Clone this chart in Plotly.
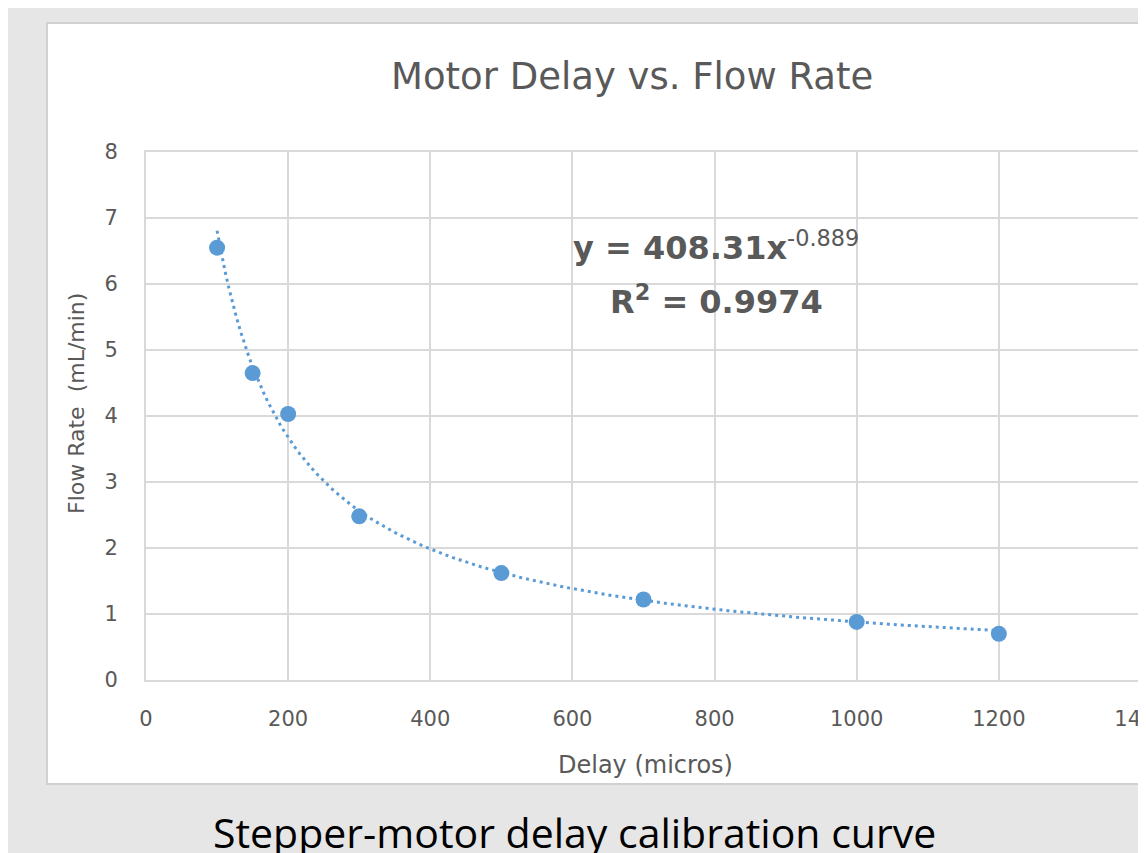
import numpy as np
import plotly.graph_objects as go

# Data
delay_us = [100, 150, 200, 300, 500, 700, 1000, 1200]
flow_ml_min = [6.55, 4.65, 4.03, 2.48, 1.62, 1.22, 0.88, 0.70]

# Power trendline shown on the chart: y = 408.31 x^-0.889
fit_a = 408.31
fit_b = -0.889
trend_x = np.linspace(min(delay_us), max(delay_us), 200)
trend_y = fit_a * trend_x ** fit_b

x_ticks = [0, 200, 400, 600, 800, 1000, 1200, 1400]
y_ticks = [0, 1, 2, 3, 4, 5, 6, 7, 8]

BLUE = "#5b9bd5"
GRAY_TXT = "#595959"
GRID = "#d9d9d9"
FONT = "DejaVu Sans"

fig = go.Figure()
fig.add_trace(go.Scatter(x=trend_x, y=trend_y, mode="lines",
                         line=dict(color=BLUE, width=3, dash="3px,4px"),
                         hoverinfo="skip", showlegend=False))
fig.add_trace(go.Scatter(x=delay_us, y=flow_ml_min, mode="markers",
                         marker=dict(color=BLUE, size=16),
                         showlegend=False))

# page body has an 8px margin: work in window pixels and shift by OFF
OFF = 8
W, H = 1146 - OFF, 853 - OFF
plot_left, plot_right, plot_top, plot_bottom = 146, 1141, 152, 680
L = plot_left - OFF
T = plot_top - OFF
R = W - (plot_right - OFF)
B = H - (plot_bottom - OFF)
pw, ph = W - L - R, H - T - B

def px(xw):
    return (xw - OFF - L) / pw

def py(yw):
    return (H - B - (yw - OFF)) / ph

fig.add_shape(type="rect", xref="paper", yref="paper",
              x0=px(47), x1=px(1170), y0=py(784), y1=py(23),
              fillcolor="white", line=dict(color="#d0d0d0", width=2), layer="below")

ann = []
ann.append(dict(text="Motor Delay vs. Flow Rate", x=px(632), y=py(77),
                font=dict(family=FONT, size=37, color=GRAY_TXT)))
ann.append(dict(text="<b>y = 408.31x</b><sup>-0.889</sup>", x=px(716), y=py(246),
                font=dict(family=FONT, size=32, color=GRAY_TXT)))
ann.append(dict(text="<b>R</b><sup><b>2</b></sup><b> = 0.9974</b>", x=px(716), y=py(300),
                font=dict(family=FONT, size=32, color=GRAY_TXT)))
ann.append(dict(text="Delay (micros)", x=px(645), y=py(765),
                font=dict(family=FONT, size=24, color=GRAY_TXT)))
ann.append(dict(text="Flow Rate  (mL/min)", x=px(76), y=py(404), textangle=-90,
                font=dict(family=FONT, size=22, color=GRAY_TXT)))
ann.append(dict(text="Stepper-motor delay calibration curve", x=px(574), y=py(832),
                font=dict(family="Open Sans", size=41, color="#000000")))
for a in ann:
    a.update(xref="paper", yref="paper", showarrow=False,
             xanchor="center", yanchor="middle")

fig.update_layout(
    width=W, height=H,
    margin=dict(l=L, r=R, t=T, b=B, autoexpand=False),
    paper_bgcolor="#e6e6e6",
    plot_bgcolor="white",
    annotations=ann,
    xaxis=dict(range=[0, 1400], tickvals=x_ticks, ticktext=[str(v) for v in x_ticks],
               showgrid=True, gridcolor=GRID, gridwidth=2,
               showline=True, linecolor=GRID, linewidth=2, mirror=True,
               zeroline=False, ticks="", ticklabelstandoff=19,
               ticklabeloverflow="allow",
               tickfont=dict(family=FONT, size=21, color=GRAY_TXT)),
    yaxis=dict(range=[0, 8], tickvals=y_ticks, ticktext=[str(v) for v in y_ticks],
               showgrid=True, gridcolor=GRID, gridwidth=2,
               showline=True, linecolor=GRID, linewidth=2, mirror=True,
               zeroline=False, ticks="", ticklabelstandoff=22,
               tickfont=dict(family=FONT, size=21, color=GRAY_TXT)),
)

fig.write_html("out.html")
